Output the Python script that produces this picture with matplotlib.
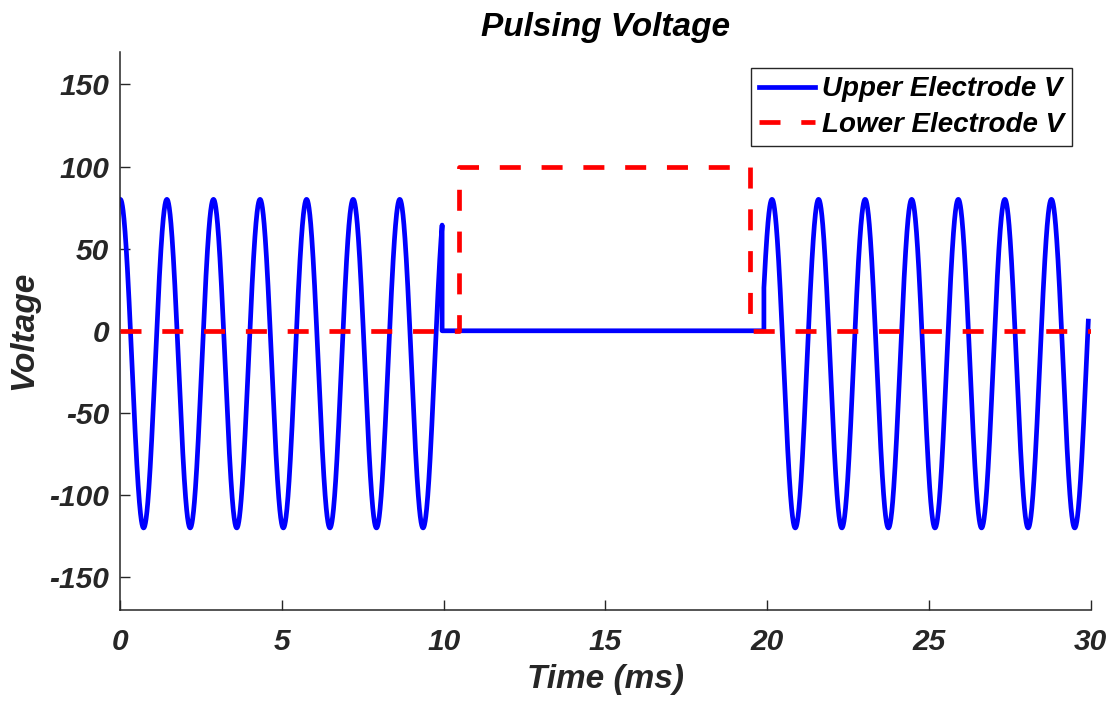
import numpy as np
import matplotlib
matplotlib.use("Agg")
import matplotlib.pyplot as plt

# ---- values ----
UPPER_CREST_V = 80.0          # top of the upper-electrode sinusoid
UPPER_TROUGH_V = -120.0       # bottom of the upper-electrode sinusoid
UPPER_PERIOD_MS = 1.44        # crest-to-crest spacing
UPPER_REST_V = 0.0            # level between bursts
BURST_STARTS_MS = [0.0, 19.90]
BURST_ENDS_MS = [9.95, 29.93]
BURST_CREST_MS = [0.0, 20.15]  # time of one crest inside each burst

LOWER_T_MS = [0.0, 10.46, 10.46, 19.47, 19.47, 30.0]
LOWER_V = [0.0, 0.0, 100.0, 100.0, 0.0, 0.0]

X_TICKS = [0, 5, 10, 15, 20, 25, 30]
Y_TICKS = [-150, -100, -50, 0, 50, 100, 150]
X_LIM = (0, 30)
Y_LIM = (-170, 170)

TITLE = "Pulsing Voltage"
X_LABEL = "Time (ms)"
Y_LABEL = "Voltage"
UPPER_NAME = "Upper Electrode V"
LOWER_NAME = "Lower Electrode V"

# ---- build the upper-electrode trace ----
mid = (UPPER_CREST_V + UPPER_TROUGH_V) / 2.0
amp = (UPPER_CREST_V - UPPER_TROUGH_V) / 2.0
ut, uv = [], []
for k, (s, e, c) in enumerate(zip(BURST_STARTS_MS, BURST_ENDS_MS, BURST_CREST_MS)):
    t = np.linspace(s, e, 1500)
    v = mid + amp * np.cos(2 * np.pi * (t - c) / UPPER_PERIOD_MS)
    if k > 0:
        ut.append(np.array([s]))
        uv.append(np.array([UPPER_REST_V]))
    ut.append(t)
    uv.append(v)
    if k < len(BURST_STARTS_MS) - 1:
        ut.append(np.array([e]))
        uv.append(np.array([UPPER_REST_V]))
ut = np.concatenate(ut)
uv = np.concatenate(uv)

# ---- figure ----
FONT = "Liberation Sans"
DARK = "#262626"
plt.rcParams["font.family"] = [FONT, "DejaVu Sans"]
plt.rcParams["axes.unicode_minus"] = False

fig = plt.figure(figsize=(11.11, 7.02), dpi=100)
ax = fig.add_axes([0.1083, 0.131, 0.8733, 0.7956])

ax.plot(ut, uv, color="#0000FF", lw=3.4, label=UPPER_NAME, zorder=2)
ax.plot(LOWER_T_MS, LOWER_V, color="#FF0000", lw=3.4, label=LOWER_NAME,
        dashes=(4.45, 4.4), zorder=3)

ax.set_xlim(*X_LIM)
ax.set_ylim(*Y_LIM)
ax.set_xticks(X_TICKS)
ax.set_yticks(Y_TICKS)

for side in ("top", "right"):
    ax.spines[side].set_visible(False)
for side in ("left", "bottom"):
    ax.spines[side].set_color(DARK)
    ax.spines[side].set_linewidth(1.1)

ax.tick_params(axis="both", direction="in", length=7, width=1.0, color=DARK,
               labelcolor=DARK, labelsize=21.5)
ax.tick_params(axis="y", pad=8)
ax.tick_params(axis="x", pad=13)
for lab in ax.get_xticklabels() + ax.get_yticklabels():
    lab.set_fontweight("bold")
    lab.set_fontstyle("italic")

ax.set_title(TITLE, fontsize=24, fontweight="bold", fontstyle="italic",
             color="black", pad=11)
ax.set_xlabel(X_LABEL, fontsize=24, fontweight="bold", fontstyle="italic",
              color=DARK, labelpad=6)
ax.set_ylabel(Y_LABEL, fontsize=24, fontweight="bold", fontstyle="italic",
              color=DARK, labelpad=7)

leg = ax.legend(loc="upper right", bbox_to_anchor=(0.981, 0.9705),
                borderaxespad=0.0, fancybox=False, framealpha=1.0,
                edgecolor=DARK, handlelength=2.0, handletextpad=0.25,
                borderpad=0.3, labelspacing=0.33,
                prop={"family": [FONT], "weight": "bold", "style": "italic",
                      "size": 20})
leg.get_frame().set_linewidth(1.0)
for t in leg.get_texts():
    t.set_color("black")

fig.savefig("out.png", dpi=100)
